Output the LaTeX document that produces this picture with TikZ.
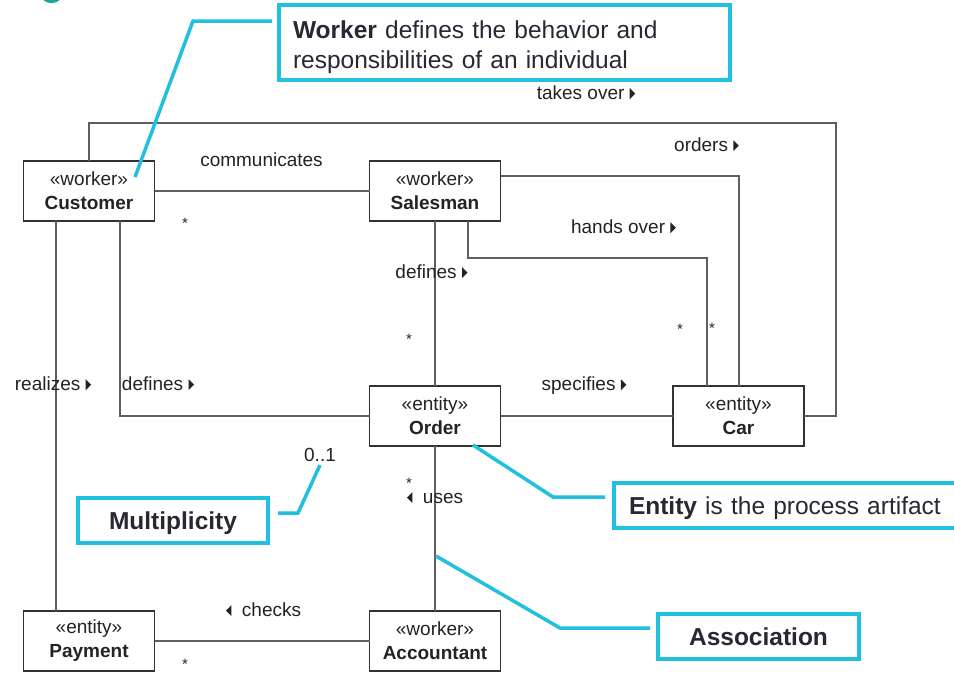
\documentclass[tikz,border=0pt]{standalone}
\usepackage{fontspec}
\setmainfont{Liberation Sans}
\usetikzlibrary{calc}

\definecolor{cyanc}{RGB}{32,192,222}
\definecolor{calltext}{RGB}{40,40,52}
\definecolor{linec}{RGB}{95,95,95}
\definecolor{boxc}{RGB}{50,50,50}
\definecolor{labelc}{RGB}{35,35,35}
\definecolor{tealc}{RGB}{24,170,150}

% small direction marks beside association names
\newcommand\rmark{\tikz[baseline=0pt]\fill[labelc] (0pt,0.5pt) -- (0pt,11.5pt) -- (5.5pt,6pt) -- cycle;}
\newcommand\lmark{\tikz[baseline=0pt]\fill[labelc] (5.5pt,0.5pt) -- (5.5pt,11.5pt) -- (0pt,6pt) -- cycle;}

\begin{document}
\begin{tikzpicture}[x=1pt,y=-1pt,
  umlbox/.style={draw=boxc, line width=1.6pt, fill=white, minimum width=131pt,
    minimum height=60pt, align=center, inner sep=0pt, outer sep=0pt,
    text=labelc, font=\fontsize{19}{24}\selectfont},
  assoc/.style={draw=linec, line width=1.5pt},
  lbl/.style={inner sep=0pt, text=labelc, font=\fontsize{19}{22}\selectfont, anchor=mid},
  mult/.style={inner sep=0pt, text=labelc, font=\fontsize{15}{15}\selectfont, anchor=north},
  cbox/.style={draw=cyanc, line width=4pt, fill=white, text=calltext, outer sep=0pt,
    font=\fontsize{24.5}{30}\selectfont},
  oneline/.style={text height=17.5pt, text depth=0pt},
  leader/.style={draw=cyanc, line width=3.5pt}]

\clip (0,0) rectangle (954,673);
\fill[white] (0,0) rectangle (954,673);
\fill[tealc] (51.5,-10.5) circle (13.5pt);

% classes
\node[umlbox] (cust)  at (89,191)    {«worker»\\\textbf{Customer}};
\node[umlbox] (sales) at (435,191)   {«worker»\\\textbf{Salesman}};
\node[umlbox] (order) at (435,416)   {«entity»\\\textbf{Order}};
\node[umlbox] (car)   at (738.5,416) {«entity»\\\textbf{Car}};
\node[umlbox] (pay)   at (89,641)    {«entity»\\\textbf{Payment}};
\node[umlbox] (acc)   at (435,641)   {«worker»\\\textbf{Accountant}};

% associations
\draw[assoc] (cust.north) |- (836,123) |- (car.east);
\draw[assoc] (cust.east) -- (sales.west);
\draw[assoc] (sales.east |- 0,176) -| (car.north -| 739,0);
\draw[assoc] (sales.south -| 468,0) |- (707,258) -- (car.north -| 707,0);
\draw[assoc] (sales.south) -- (order.north);
\draw[assoc] (cust.south -| 120,0) |- (order.west);
\draw[assoc] (cust.south -| 56,0) -- (pay.north -| 56,0);
\draw[assoc] (order.east) -- (car.west);
\draw[assoc] (order.south) -- (acc.north);
\draw[assoc] (pay.east) -- (acc.west);

% association names
\node[lbl] at (586,97)    {takes over \rmark};
\node[lbl] at (261.5,164) {communicates};
\node[lbl] at (706.5,149) {orders \rmark};
\node[lbl] at (623.5,231) {hands over \rmark};
\node[lbl] at (431.5,276) {defines \rmark};
\node[lbl] at (53,388)    {realizes \rmark};
\node[lbl] at (158,388)   {defines \rmark};
\node[lbl] at (584,388)   {specifies \rmark};
\node[lbl] at (435,501)   {\lmark\ \ uses};
\node[lbl] at (263.5,614) {\lmark\ \ checks};
\node[lbl] at (320,459)   {0..1};

% multiplicities
\node[mult] at (185,218) {*};
\node[mult] at (409,334) {*};
\node[mult] at (680,324) {*};
\node[mult] at (712,323) {*};
\node[mult] at (409,478) {*};
\node[mult] at (185,659) {*};

% callouts
\node[cbox, minimum width=451pt, minimum height=75pt, text width=423pt,
      inner xsep=14pt, align=left] (wbox) at (504.5,42.5)
      {\rule{0pt}{27pt}\textbf{Worker} defines the behavior and\\responsibilities of an individual};
\node[cbox, oneline, minimum width=190pt, minimum height=45pt, inner sep=0pt] (mbox) at (173,520.5)
      {\textbf{Multiplicity}};
\node[cbox, oneline, minimum width=348pt, minimum height=45pt, text width=318pt,
      inner xsep=15pt, align=left] (ebox) at (788,505.5)
      {\textbf{Entity} is the process artifact};
\node[cbox, oneline, minimum width=201pt, minimum height=45pt, inner sep=0pt] (abox) at (758.5,636.5)
      {\textbf{Association}};

% callout leaders
\coordinate (wbend) at (193,21);
\coordinate (wtip)  at (135,177);
\coordinate (mbend) at (298,513);
\coordinate (mtip)  at (320,465);
\coordinate (ebend) at (553,497);
\coordinate (etip)  at (473,445);
\coordinate (abend) at (560,628);
\coordinate (atip)  at (436,556);
\draw[leader] ($(wbox.west |- wbend)+(-7,0)$) -- (wbend) -- (wtip);
\draw[leader] ($(mbox.east |- mbend)+(10,0)$) -- (mbend) -- (mtip);
\draw[leader] ($(ebox.west |- ebend)+(-9,0)$) -- (ebend) -- (etip);
\draw[leader] ($(abox.west |- abend)+(-8,0)$) -- (abend) -- (atip);
\end{tikzpicture}
\end{document}
